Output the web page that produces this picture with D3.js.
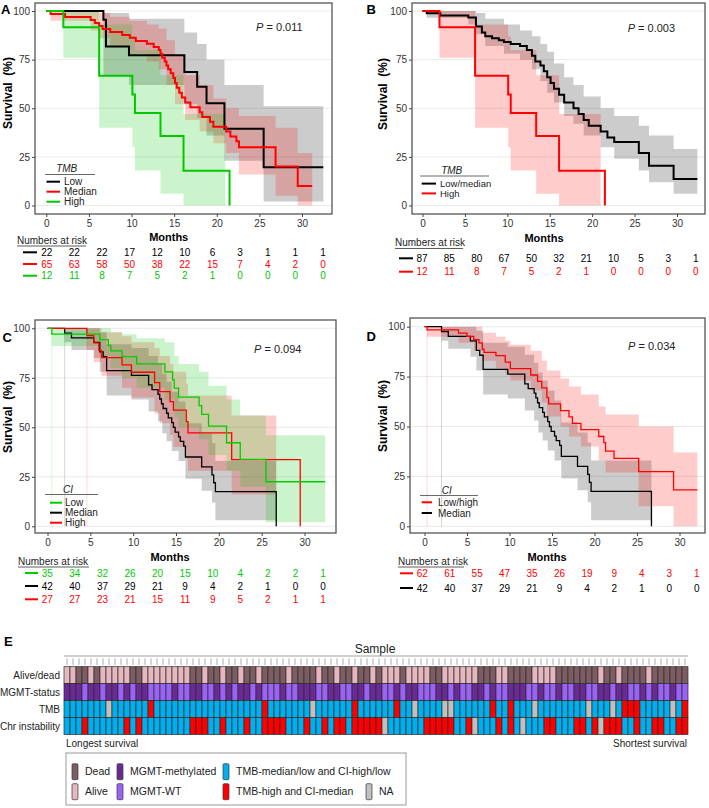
<!DOCTYPE html>
<html lang="en">
<head>
<meta charset="UTF-8">
<title>Survival by TMB and CI</title>
<script src="https://d3js.org/d3.v7.min.js"></script>
<style>
  body { margin:0; background:#fff; }
  svg { display:block; font-family:"Liberation Sans", Arial, sans-serif; }
</style>
</head>
<body>
<svg id="fig" width="709" height="808"></svg>
<script>
// ---- data ----
var riskTimes = [0,3,6,9,12,15,18,21,24,27,30];
var xTicks = [0,5,10,15,20,25,30];
var yTicks = [0,25,50,75,100];

// TMB low (A)
var tmbLowSteps = [[0,100],[6.7,95.5],[7.0,81.8],[9.7,77.3],[16.2,68.7],[17.7,61.1],[18.8,52.6],[20.9,39.5],[25.5,19.7]];
var tmbLowEnd = 32.5;
var tmbLowBand = [[6.7,67,99],[9.7,62,96],[16.2,52,89],[17.7,45,83],[18.8,36,75],[20.9,23,62],[25.5,2,51]];
var tmbLowBandEnd = 32.5;

// TMB median (A)
var tmbMedSteps = [[0,100],[0.5,98.5],[2.2,96.9],[5.2,95.4],[5.7,93.8],[6.2,92.3],[6.6,90.8],[7.5,89.2],[8.9,87.7],[9.8,86.2],[10.5,84.6],[11.8,83.1],[12.6,81.5],[13.2,80],[13.4,78],[13.6,76],[13.9,74],[14.1,72],[14.3,70],[14.6,68],[14.9,65.5],[15.1,63],[15.3,60.5],[15.6,58],[15.9,55.5],[16.3,53],[16.9,50.5],[18.0,48],[18.3,45.5],[19.2,43],[19.6,40.5],[21.1,38],[21.6,35.5],[22.3,33],[22.6,30],[26.9,20],[29.5,10]];
var tmbMedEnd = 31.2;
var tmbMedBand = [[0.5,95,100],[5.2,90,100],[6.2,86,99],[7.5,82,97],[9.8,78,95],[11.8,74,93],[13.2,70,91],[14.1,62,85],[15.1,52,77],[16.3,44,67],[18.0,38,62],[19.6,32,55],[21.1,27,50],[22.6,16,46],[26.9,5,40],[29.5,0,27]];
var tmbMedBandEnd = 31.2;

// TMB high (A and B)
var tmbHighSteps = [[0,100],[2.0,91.7],[6.2,66.7],[10.1,57.1],[10.4,47.6],[13.4,35.7],[16.1,17.9],[21.5,0]];
var tmbHighEnd = 21.5;
var tmbHighBand = [[2.0,76,100],[6.2,40,93],[10.1,30,87],[10.4,18,80],[13.4,6,67],[16.1,0,47]];
var tmbHighBandEnd = 21.0;

// TMB low/median (B)
var tmbLowMedSteps = [[0,100],[0.5,98.9],[2.1,97.7],[5.4,96.6],[6.3,92],[7.0,89],[7.4,87],[8.2,86],[9.0,85],[9.6,84],[10.4,83],[11.5,82],[12.3,80],[12.9,77],[13.3,74],[13.9,72],[14.3,69],[14.7,66],[15.1,63],[15.5,60],[16.1,57],[16.7,53],[17.8,50],[18.4,47],[19.0,44],[19.6,41],[21.0,38],[21.8,35],[22.6,32.6],[25.5,27],[26.7,20.4],[29.6,13.6]];
var tmbLowMedEnd = 32.4;
var tmbLowMedBand = [[0.5,96.5,100],[5.4,93,100],[6.3,88,99],[7.4,82,96],[9.6,78,93],[11.5,75,90],[12.9,70,87],[13.9,64,83],[14.7,58,79],[15.5,53,73],[16.7,46,66],[17.8,42,62],[19.0,36,56],[21.0,30,50],[22.6,24,46],[25.5,18,41],[26.7,12,36],[29.6,6,29]];
var tmbLowMedBandEnd = 32.4;

// CI low (C)
var ciLowSteps = [[0,100],[0.5,97.1],[6.1,94.3],[7.1,91.4],[7.4,88.6],[8.7,85.7],[10.4,82],[13.7,78],[14.6,74],[14.8,69.8],[15.3,65.2],[17.7,60.9],[18.0,56.5],[18.8,50.6],[20.9,42.2],[22.5,33.8],[25.5,22.5]];
var ciLowEnd = 32.4;
var ciLowBand = [[0.5,91,100],[6.1,86,100],[7.4,80,98],[8.7,75,97],[10.4,70,95],[13.7,64,93],[14.8,55,86],[15.3,50,82],[17.7,44,78],[18.8,36,71],[20.9,28,64],[22.5,20,56],[25.5,2,46]];
var ciLowBandEnd = 32.4;

// CI median (C and D)
var ciMedSteps = [[0,100],[2.0,97.6],[2.8,95.2],[5.4,92.9],[6.1,88.1],[6.5,85.7],[6.9,78.6],[9.8,76.2],[11.8,71.4],[12.2,69],[12.9,66.7],[13.1,64.3],[13.3,61.9],[13.5,59.5],[13.9,57.1],[14.1,54.8],[14.5,52.4],[14.7,50],[14.9,47.6],[15.3,45.2],[15.5,42.9],[15.9,40.5],[16.1,35],[18.0,30],[19.2,26],[19.4,22],[19.6,17.5],[26.7,0]];
var ciMedEnd = 26.7;
var ciMedBand = [[2.0,93,100],[2.8,89,100],[5.4,85,100],[6.1,78,98],[6.9,66,92],[9.8,64,90],[11.8,58,86],[12.9,53,82],[13.4,47,77],[13.9,43,73],[14.5,38,68],[15.3,33,63],[16.1,24,52],[18.0,18,47],[19.2,12,42],[19.6,3,33]];
var ciMedBandEnd = 26.7;

// CI high (C)
var ciHighSteps = [[0,100],[4.6,96.3],[5.4,92.6],[6.0,88.9],[6.3,85.2],[8.7,81.5],[9.8,77.8],[12.5,72.6],[13.1,68],[14.3,63],[14.7,58.7],[16.2,52.8],[16.4,47.2],[21.5,33.7],[29.5,0]];
var ciHighEnd = 29.5;
var ciHighBand = [[4.6,89,100],[5.4,83,100],[6.3,76,98],[8.7,70,96],[9.8,65,93],[12.5,57,90],[13.1,52,86],[14.3,46,82],[14.7,40,78],[16.2,34,72],[16.4,28,66],[21.5,16,56]];
var ciHighBandEnd = 26.7;

// CI low/high (D)
var ciLowHighSteps = [[0,100],[0.3,98.4],[4.0,96.8],[5.0,95.2],[5.8,93.5],[6.4,91.9],[6.8,88.7],[7.0,87.1],[8.4,85.5],[9.5,82.3],[10.1,79],[12.5,75.8],[13.3,72.6],[13.8,69.4],[14.4,64.5],[14.6,61.3],[16.0,58],[17.0,54.8],[17.4,51.6],[18.4,48.4],[20.5,45],[21.1,41.9],[21.3,37.7],[22.3,34],[25.2,27.4],[29.3,18.2]];
var ciLowHighEnd = 32.1;
var ciLowHighBand = [[0.3,95,100],[4.0,92,100],[5.8,88,100],[6.8,83,97],[8.4,79,95],[9.5,76,93],[10.1,73,91],[12.5,68,88],[13.8,62,83],[14.4,55,78],[16.0,50,74],[17.0,45,70],[18.4,40,66],[20.5,33,60],[21.3,27,56],[25.2,10,50],[29.3,0,37]];
var ciLowHighBandEnd = 32.1;

// numbers at risk
var riskA = { low:[22,22,22,17,12,10,6,3,1,1,1], med:[65,63,58,50,38,22,15,7,4,2,0], high:[12,11,8,7,5,2,1,0,0,0,0] };
var riskB = { lowmed:[87,85,80,67,50,32,21,10,5,3,1], high:[12,11,8,7,5,2,1,0,0,0,0] };
var riskC = { low:[35,34,32,26,20,15,10,4,2,2,1], med:[42,40,37,29,21,9,4,2,1,0,0], high:[27,27,23,21,15,11,9,5,2,1,1] };
var riskD = { lowhigh:[62,61,55,47,35,26,19,9,4,3,1], med:[42,40,37,29,21,9,4,2,1,0,0] };

// heatmap: 104 samples, longest -> shortest survival (A = alive, D = dead; M = methylated, W = wild type)
var nSamples = 104;
var aliveDead = ["AADDADAAAA","ADDAAAAAAA","ADDADDADDA","DDADDDDADD","DDADDADDAD",
                 "DADAAADAAA","ADDAAAAAAD","DDAADDDDAA","AADDDDDDDA","DDADDDDADD","DDDD"].join("");
var mgmtStatus = ["MMMWMMWMMW","MWMMWWWWMW","WMMWWMWMWM","MWMWWWMWWM","MMWWMMWWMM",
                  "WMMWWMWMMW","WWMMWMWWMM","WMWWMMMWWM","WWMWWMMWWM","MWMMWWMWMW","WMWW"].join("");
var tmbHighIdx = [14,33,48,55,71,74,93,94,95,103];
var tmbNAIdx = [7,41,58,63,64,78,87,91,101];
var ciMedIdx = [3,10,12,21,22,23,26,30,33,34,35,36,40,43,45,46,48,49,50,51,52,60,61,62,63,64,67,72,74,80,81,85,86,88,90,91,92,95,98,99,102,103];
var ciNAIdx = [53,68,76,89];
var rowLabels = ["Alive/dead","MGMT-status","TMB","Chr instability"];

// ---- drawing ----
var svg = d3.select("#fig");
var colBlack = "#000000", colRed = "#ff0000", colGreen = "#00c800";
var bandGray = "rgba(0,0,0,0.2)", bandRed = "rgba(255,0,0,0.2)", bandGreen = "rgba(0,200,0,0.2)";
var txt = "#222";

function panel(cfg) {
  var g = svg.append("g");
  var x = d3.scaleLinear().domain([0,30]).range([cfg.x0, cfg.x30]);
  var y = d3.scaleLinear().domain([0,100]).range([cfg.y0, cfg.y100]);
  var b = cfg.box;

  g.selectAll("line.grid").data(yTicks).join("line")
    .attr("x1", b[0]).attr("x2", b[2])
    .attr("y1", function(d){ return y(d); }).attr("y2", function(d){ return y(d); })
    .attr("stroke", "#e4e4e4").attr("stroke-width", 0.8);

  var area = d3.area().curve(d3.curveStepAfter)
    .x(function(d){ return x(d[0]); })
    .y0(function(d){ return y(d[1]); })
    .y1(function(d){ return y(d[2]); });
  var line = d3.line().curve(d3.curveStepAfter)
    .x(function(d){ return x(d[0]); })
    .y(function(d){ return y(d[1]); });

  cfg.groups.forEach(function(gr){
    if (cfg.firstLines) {
      g.append("line").attr("x1", x(gr.band[0][0])).attr("x2", x(gr.band[0][0]))
        .attr("y1", y(0)).attr("y2", y(100)).attr("stroke", gr.fill).attr("stroke-width", 0.8);
    }
    var last = gr.band[gr.band.length-1];
    g.append("path").attr("d", area(gr.band.concat([[gr.bandEnd, last[1], last[2]]])))
      .attr("fill", gr.fill);
  });
  cfg.groups.forEach(function(gr){
    var last = gr.steps[gr.steps.length-1];
    g.append("path").attr("d", line(gr.steps.concat([[gr.end, last[1]]])))
      .attr("fill", "none").attr("stroke", gr.color).attr("stroke-width", cfg.lw);
  });

  g.append("rect").attr("x", b[0]).attr("y", b[1]).attr("width", b[2]-b[0]).attr("height", b[3]-b[1])
    .attr("fill", "none").attr("stroke", "#555").attr("stroke-width", 1.3);

  var ay = g.append("g").attr("transform", "translate(" + b[0] + ",0)")
    .call(d3.axisLeft(y).tickValues(yTicks).tickSize(3).tickPadding(2));
  var ax = g.append("g").attr("transform", "translate(0," + b[3] + ")")
    .call(d3.axisBottom(x).tickValues(xTicks).tickSize(3).tickPadding(3));
  [ax, ay].forEach(function(a){
    a.select(".domain").remove();
    a.selectAll("line").attr("stroke", "#444");
    a.selectAll("text").attr("fill", "#333").style("font-size", "10px").style("font-family", "inherit");
  });

  g.append("text").attr("x", cfg.letter[0]).attr("y", cfg.letter[1])
    .style("font-size", "13px").style("font-weight", "bold").text(cfg.name);
  g.append("text").attr("transform", "translate(" + cfg.ylab[0] + "," + cfg.ylab[1] + ") rotate(-90)")
    .attr("text-anchor", "middle").attr("dy", "0.35em")
    .style("font-size", "12px").style("font-weight", "bold").text("Survival\u00a0\u00a0(%)");
  g.append("text").attr("x", cfg.months[0]).attr("y", cfg.months[1]).attr("text-anchor", "middle")
    .style("font-size", "11px").style("font-weight", "bold").text("Months");
  var p = g.append("text").attr("x", cfg.pval[0]).attr("y", cfg.pval[1]).style("font-size", "11px").attr("fill", txt);
  p.append("tspan").style("font-style", "italic").text("P");
  p.append("tspan").text(" = " + cfg.p);

  // legend
  var L = cfg.legend;
  g.append("text").attr("x", L.tx).attr("y", L.ty).attr("text-anchor", "middle")
    .style("font-size", "10px").style("font-style", "italic").attr("fill", txt).text(L.title);
  g.append("line").attr("x1", L.ux[0]).attr("x2", L.ux[1]).attr("y1", L.uy).attr("y2", L.uy)
    .attr("stroke", "#444").attr("stroke-width", 0.8);
  var ordered = cfg.groups.slice().sort(function(a,b2){ return a.legOrder - b2.legOrder; });
  ordered.forEach(function(gr, i){
    var yy = L.iy + i * L.step;
    g.append("line").attr("x1", L.lx[0]).attr("x2", L.lx[1]).attr("y1", yy).attr("y2", yy)
      .attr("stroke", gr.color).attr("stroke-width", 2);
    g.append("text").attr("x", L.textX).attr("y", yy).attr("dy", "0.35em")
      .style("font-size", L.fs || "10px").attr("fill", txt).text(gr.label);
  });

  // numbers at risk
  var R = cfg.risk;
  var rx = d3.scaleLinear().domain([0, riskTimes.length-1]).range([R.x0, R.x1]);
  g.append("text").attr("x", R.tx).attr("y", R.ty).style("font-size", "10px").attr("fill", txt).text("Numbers at risk");
  g.append("line").attr("x1", R.tx).attr("x2", R.ux).attr("y1", R.ty + 2.5).attr("y2", R.ty + 2.5)
    .attr("stroke", "#333").attr("stroke-width", 0.8);
  ordered.forEach(function(gr, i){
    var yy = R.rows[i];
    g.append("line").attr("x1", R.mx[0]).attr("x2", R.mx[1]).attr("y1", yy).attr("y2", yy)
      .attr("stroke", gr.color).attr("stroke-width", 2);
    g.selectAll(null).data(gr.risk).join("text")
      .attr("x", function(d, j){ return rx(j); }).attr("y", yy).attr("dy", "0.35em")
      .attr("text-anchor", "middle").style("font-size", "10px").attr("fill", gr.color)
      .text(function(d){ return d; });
  });
}

panel({
  name:"A", box:[35,3,332,214], x0:46.3, x30:302, y0:205.5, y100:11, lw:2,
  letter:[1,14], ylab:[7.5,93], months:[168.7,240.5], pval:[256,31], p:"0.011",
  legend:{ title:"TMB", tx:66.7, ty:171.8, ux:[45,95], uy:174.5, iy:181.7, step:10, lx:[46.5,60], textX:64 },
  risk:{ tx:17, ty:243.5, ux:86, x0:46.7, x1:323, rows:[252.3,264,275.7], mx:[23,37] },
  groups:[
    { label:"Low", legOrder:0, color:colBlack, fill:bandGray, steps:tmbLowSteps, end:tmbLowEnd, band:tmbLowBand, bandEnd:tmbLowBandEnd, risk:riskA.low },
    { label:"Median", legOrder:1, color:colRed, fill:bandRed, steps:tmbMedSteps, end:tmbMedEnd, band:tmbMedBand, bandEnd:tmbMedBandEnd, risk:riskA.med },
    { label:"High", legOrder:2, color:colGreen, fill:bandGreen, steps:tmbHighSteps, end:tmbHighEnd, band:tmbHighBand, bandEnd:tmbHighBandEnd, risk:riskA.high }
  ]
});

panel({
  name:"B", box:[412,3,705,214], x0:422.5, x30:677, y0:205.5, y100:11, lw:2,
  letter:[366.5,14], ylab:[382.5,94], months:[544,242], pval:[627.7,32], p:"0.003",
  legend:{ title:"TMB", tx:451.7, ty:173.8, ux:[420,489], uy:176, iy:183.6, step:9.8, lx:[421.7,436], textX:440, fs:"9.5px" },
  risk:{ tx:395, ty:246, ux:463, x0:422, x1:695.7, rows:[258.3,271.7], mx:[399,413] },
  groups:[
    { label:"Low/median", legOrder:0, color:colBlack, fill:bandGray, steps:tmbLowMedSteps, end:tmbLowMedEnd, band:tmbLowMedBand, bandEnd:tmbLowMedBandEnd, risk:riskB.lowmed },
    { label:"High", legOrder:1, color:colRed, fill:bandRed, steps:tmbHighSteps, end:tmbHighEnd, band:tmbHighBand, bandEnd:tmbHighBandEnd, risk:riskB.high }
  ]
});

panel({
  name:"C", box:[35,320,336,533], x0:47.5, x30:304.5, y0:526.3, y100:328.3, lw:1.3, firstLines:true,
  letter:[2.5,341.5], ylab:[7.5,417], months:[170,561], pval:[254,353], p:"0.094",
  legend:{ title:"CI", tx:68, ty:492.5, ux:[45,98], uy:494.5, iy:502.7, step:10, lx:[50,62], textX:65 },
  risk:{ tx:18, ty:564.5, ux:89, x0:47.3, x1:323, rows:[573,586,599.3], mx:[25,38] },
  groups:[
    { label:"Median", legOrder:1, color:colBlack, fill:bandGray, steps:ciMedSteps, end:ciMedEnd, band:ciMedBand, bandEnd:ciMedBandEnd, risk:riskC.med },
    { label:"High", legOrder:2, color:colRed, fill:bandRed, steps:ciHighSteps, end:ciHighEnd, band:ciHighBand, bandEnd:ciHighBandEnd, risk:riskC.high },
    { label:"Low", legOrder:0, color:"#00cc00", fill:bandGreen, steps:ciLowSteps, end:ciLowEnd, band:ciLowBand, bandEnd:ciLowBandEnd, risk:riskC.low }
  ]
});

panel({
  name:"D", box:[410,318,705,533], x0:424.5, x30:679.5, y0:526.3, y100:326.7, lw:1.3, firstLines:true,
  letter:[366.5,341], ylab:[382.5,416], months:[547,561], pval:[628,350], p:"0.034",
  legend:{ title:"CI", tx:446.7, ty:493.5, ux:[420,478], uy:495.5, iy:502.3, step:10.7, lx:[421.7,432], textX:438 },
  risk:{ tx:398, ty:564.5, ux:464, x0:422.3, x1:696.7, rows:[573.3,588], mx:[400,413] },
  groups:[
    { label:"Median", legOrder:1, color:colBlack, fill:bandGray, steps:ciMedSteps, end:ciMedEnd, band:ciMedBand, bandEnd:ciMedBandEnd, risk:riskD.med },
    { label:"Low/high", legOrder:0, color:colRed, fill:bandRed, steps:ciLowHighSteps, end:ciLowHighEnd, band:ciLowHighBand, bandEnd:ciLowHighBandEnd, risk:riskD.lowhigh }
  ]
});

// ---- panel E heatmap ----
function codeRow(highIdx, naIdx) {
  return d3.range(nSamples).map(function(i){
    return highIdx.indexOf(i) >= 0 ? "R" : (naIdx.indexOf(i) >= 0 ? "N" : "B");
  });
}
var rowCodes = {
  "Alive/dead": aliveDead.split(""),
  "MGMT-status": mgmtStatus.split(""),
  "TMB": codeRow(tmbHighIdx, tmbNAIdx),
  "Chr instability": codeRow(ciMedIdx, ciNAIdx)
};
var cellColor = {
  "Alive/dead": { A:"#e6b7bf", D:"#7d5d63" },
  "MGMT-status": { M:"#6a2a96", W:"#9a62f5" },
  "TMB": { B:"#00b0ee", R:"#ff0000", N:"#c0c0c0" },
  "Chr instability": { B:"#00b0ee", R:"#ff0000", N:"#c0c0c0" }
};
var hx = d3.scaleBand().domain(d3.range(nSamples)).range([64, 688]);
var hy = d3.scaleBand().domain(rowLabels).range([666.7, 734.5]);
var he = svg.append("g");
he.append("text").attr("x", 4).attr("y", 646).style("font-size", "13px").style("font-weight", "bold").text("E");
he.append("text").attr("x", 375).attr("y", 652.5).attr("text-anchor", "middle").style("font-size", "12px").attr("fill", txt).text("Sample");
he.append("line").attr("x1", 64).attr("x2", 688).attr("y1", 656).attr("y2", 656).attr("stroke", "#888").attr("stroke-width", 0.8);
he.selectAll("line.tick").data(d3.range(nSamples)).join("line")
  .attr("x1", function(d){ return hx(d) + hx.bandwidth()/2; }).attr("x2", function(d){ return hx(d) + hx.bandwidth()/2; })
  .attr("y1", 658.3).attr("y2", 665).attr("stroke", "#999").attr("stroke-width", 0.8);
rowLabels.forEach(function(r){
  he.selectAll(null).data(rowCodes[r]).join("rect")
    .attr("x", function(d, i){ return hx(i); }).attr("y", hy(r))
    .attr("width", hx.bandwidth()).attr("height", hy.bandwidth())
    .attr("fill", function(d){ return cellColor[r][d]; })
    .attr("stroke", "#2b2b2b").attr("stroke-width", 0.7);
  he.append("text").attr("x", 60).attr("y", hy(r) + hy.bandwidth()/2).attr("dy", "0.35em")
    .attr("text-anchor", "end").style("font-size", "10px").attr("fill", txt).text(r);
});
he.append("text").attr("x", 66).attr("y", 746.5).style("font-size", "10px").attr("fill", txt).text("Longest survival");
he.append("text").attr("x", 687).attr("y", 746.5).attr("text-anchor", "end").style("font-size", "10px").attr("fill", txt).text("Shortest survival");

// legend
var legItems = [
  { label:"Dead", color:"#7d5d63", col:0, row:0 },
  { label:"Alive", color:"#e6b7bf", col:0, row:1 },
  { label:"MGMT-methylated", color:"#6a2a96", col:1, row:0 },
  { label:"MGMT-WT", color:"#9a62f5", col:1, row:1 },
  { label:"TMB-median/low and CI-high/low", color:"#00b0ee", col:2, row:0 },
  { label:"TMB-high and CI-median", color:"#ff0000", col:2, row:1 },
  { label:"NA", color:"#c0c0c0", col:3, row:1 }
];
var legColX = [72, 117, 223, 366];
var legRowY = [771.7, 791.7];
he.append("rect").attr("x", 66).attr("y", 753).attr("width", 340).attr("height", 52)
  .attr("fill", "none").attr("stroke", "#999").attr("stroke-width", 1);
legItems.forEach(function(it){
  var cx = legColX[it.col], cy = legRowY[it.row];
  he.append("rect").attr("x", cx).attr("y", cy - 8).attr("width", 6).attr("height", 16).attr("rx", 1.2)
    .attr("fill", it.color).attr("stroke", "#333").attr("stroke-width", 0.7);
  he.append("text").attr("x", cx + 13).attr("y", cy).attr("dy", "0.35em")
    .style("font-size", "10.5px").attr("fill", txt).text(it.label);
});
</script>
</body>
</html>
